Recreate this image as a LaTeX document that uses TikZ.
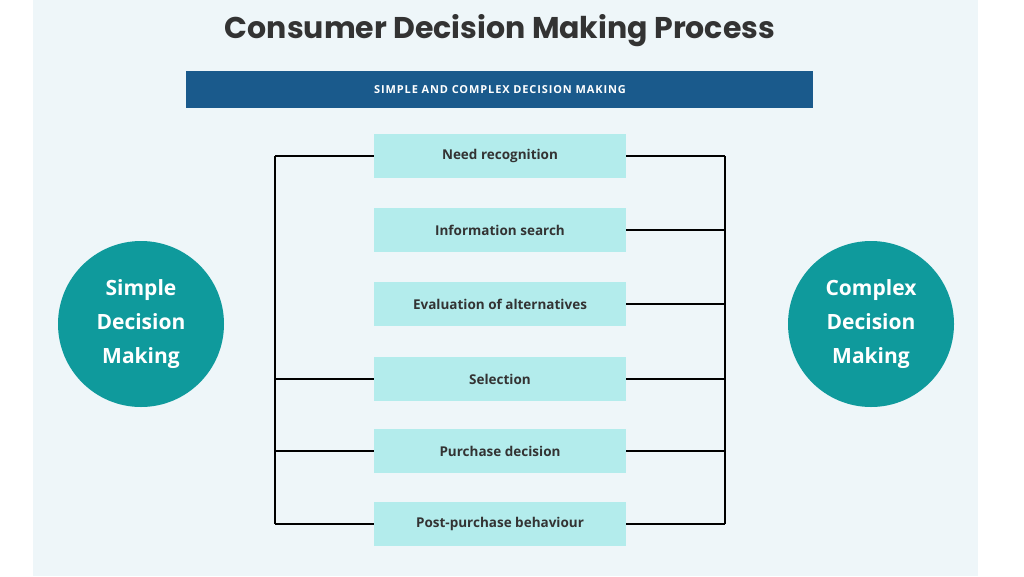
\documentclass[tikz,border=0pt]{standalone}
\usepackage{fontspec}
\setmainfont{Open Sans}
\newfontfamily\titlefont{Poppins}
\definecolor{panel}{HTML}{EEF6F9}
\definecolor{banner}{HTML}{1A5A8C}
\definecolor{boxc}{HTML}{B3ECEC}
\definecolor{teal}{HTML}{0F9A9C}
\definecolor{ink}{HTML}{333333}
\tikzset{
  stepbox/.style={fill=boxc,minimum width=252pt,minimum height=44pt,inner sep=0pt,text=ink,font=\fontsize{13.5}{16}\selectfont\bfseries},
  circ/.style={circle,fill=teal,minimum size=166pt,inner sep=0pt,text=white,align=center,font=\fontsize{21}{34}\selectfont\bfseries},
  wire/.style={line width=1.6pt,black}
}
\begin{document}
\begin{tikzpicture}[x=1pt,y=-1pt]
\useasboundingbox (0,0) rectangle (1024,576);
\fill[white] (0,0) rectangle (1024,576);
\fill[panel] (33,0) rectangle (978,576);
\node[font=\titlefont\fontsize{30}{36}\selectfont\bfseries,text=ink] (title) at (500,31) {Consumer Decision Making Process};
\fill[banner] (186,71) rectangle (813,108);
\node[text=white,font=\fontsize{11}{13}\selectfont\bfseries] (sub) at (500,89.5) {\addfontfeatures{LetterSpace=8}SIMPLE AND COMPLEX DECISION MAKING};
\node[stepbox] (s1) at (500,156) {Need recognition};
\node[stepbox] (s2) at (500,230) {Information search};
\node[stepbox] (s3) at (500,304) {Evaluation of alternatives};
\node[stepbox] (s4) at (500,379) {Selection};
\node[stepbox] (s5) at (500,451) {Purchase decision};
\node[stepbox] (s6) at (500,524) {Post-purchase behaviour};
\coordinate (lt) at (275,156); \coordinate (lb) at (275,524);
\coordinate (rt) at (725,156); \coordinate (rb) at (725,524);
\draw[wire] (lt) -- (lb);
\draw[wire] (rt) -- (rb);
\foreach \i in {1,4,5,6} \draw[wire] (s\i.west) -- (s\i.west -| lt);
\foreach \i in {1,...,6} \draw[wire] (s\i.east) -- (s\i.east -| rt);
\node[circ] (simple) at (141,324) {Simple\\Decision\\Making};
\node[circ] (complex) at (871,324) {Complex\\Decision\\Making};
\end{tikzpicture}
\end{document}
